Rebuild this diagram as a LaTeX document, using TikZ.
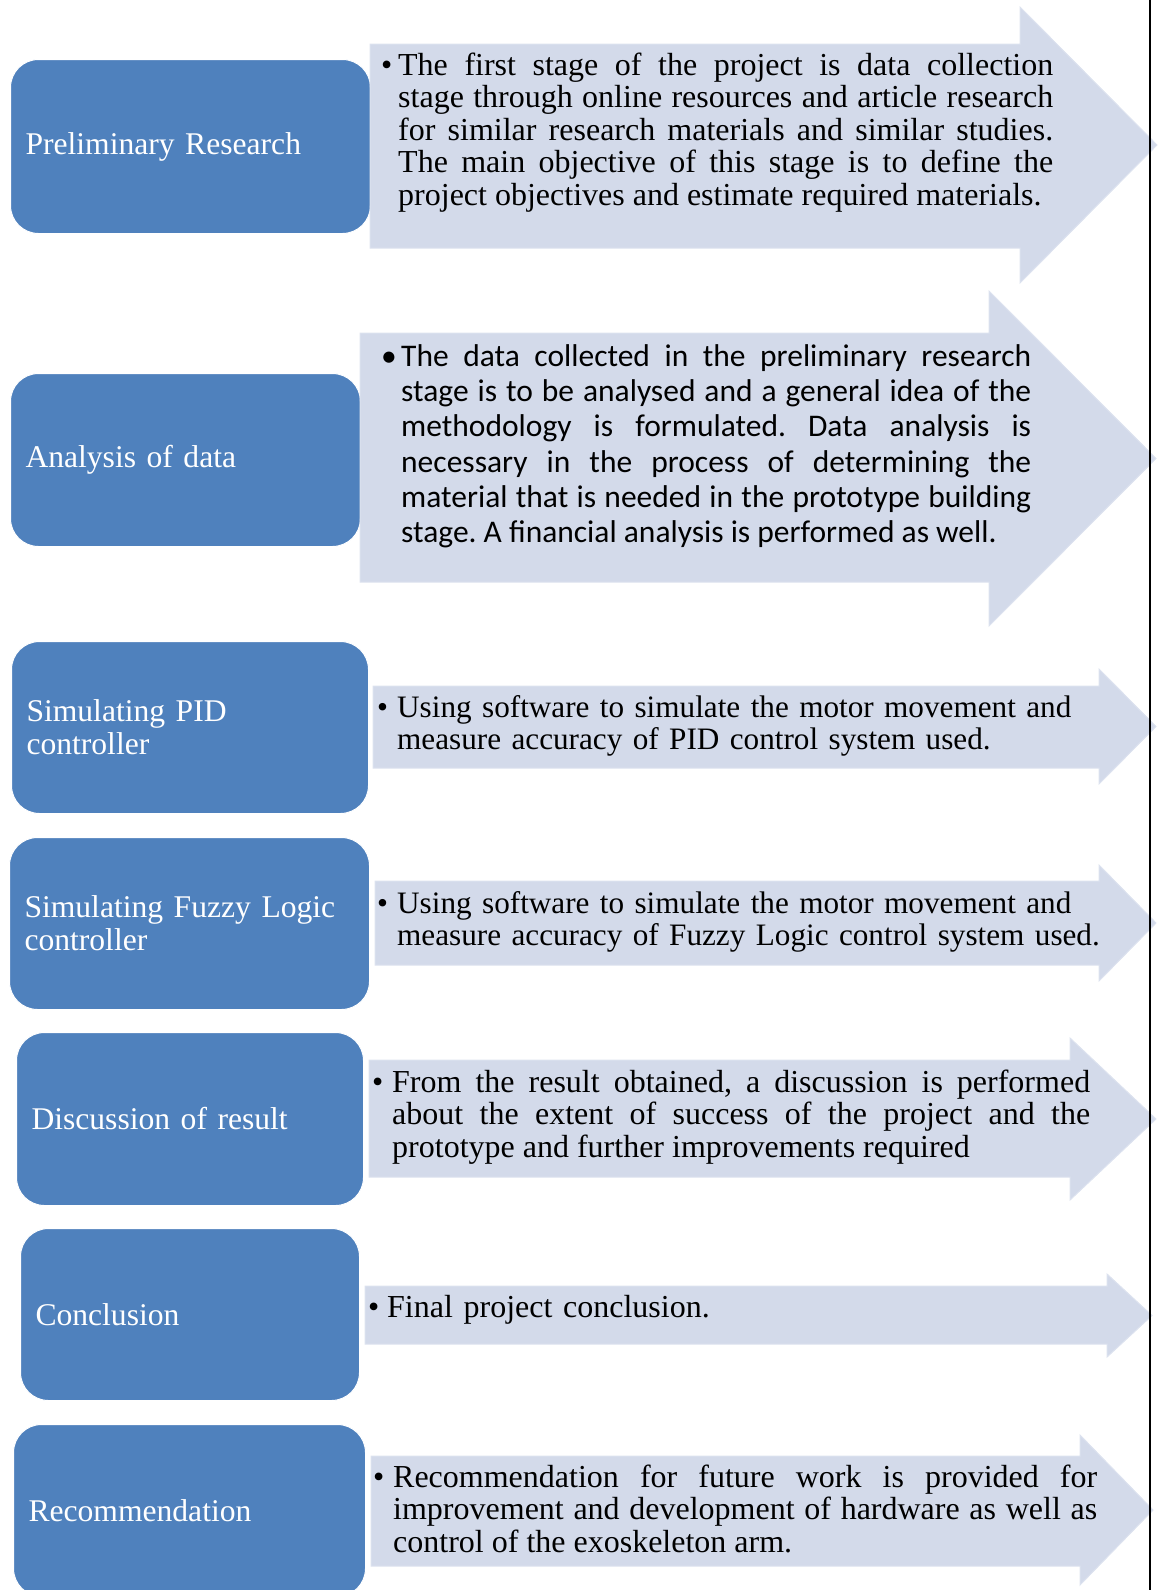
\documentclass[tikz,border=0pt]{standalone}
\usepackage{fontspec}
\setmainfont{Liberation Serif}
\newfontfamily\calibrifont{Carlito}
\definecolor{boxblue}{RGB}{79,129,189}
\definecolor{arrowfill}{RGB}{211,218,234}
\definecolor{arrowedge}{RGB}{220,226,239}
\newcommand{\stagearrow}[7]{%
  \filldraw[arrowshape] (#1,#2) -- (#4,#2) -- (#4,#5) -- (#7,{(#5+#6)/2}) -- (#4,#6) -- (#4,#3) -- (#1,#3) -- cycle;}
\newcommand{\bulletitem}[2]{\frenchspacing\noindent\hangindent=#1\hangafter=1\strut\makebox[#1][l]{\textbullet}#2\par}
\begin{document}
\begin{tikzpicture}[x=1pt,y=-1pt,
  stagebox/.style={fill=boxblue, draw=white, line width=1pt, rounded corners=28pt, text=white,
    font=\fontsize{31.6}{33}\selectfont, align=left, anchor=north west, inner xsep=15pt, inner ysep=0pt},
  arrowshape/.style={fill=arrowfill, draw=arrowedge, line width=1pt},
  desc/.style={anchor=north west, inner sep=0pt, text=black, font=\fontsize{32}{32.5}\selectfont, align=justify},
  descrag/.style={desc, align=left}
]
\useasboundingbox (0,0) rectangle (1158,1590);

% stage boxes
\node[stagebox, minimum width=360pt, minimum height=174pt, text width=330pt] (b1) at (10,59) {Preliminary Research};
\node[stagebox, minimum width=350pt, minimum height=173pt, text width=320pt] (b2) at (10,373) {Analysis of data};
\node[stagebox, minimum width=357pt, minimum height=172pt, text width=327pt] (b3) at (11,641) {Simulating PID\\controller};
\node[stagebox, minimum width=360pt, minimum height=172pt, text width=330pt] (b4) at (9,837) {Simulating Fuzzy Logic\\controller};
\node[stagebox, minimum width=347pt, minimum height=173pt, text width=317pt] (b5) at (16,1032) {Discussion of result};
\node[stagebox, minimum width=339pt, minimum height=172pt, text width=309pt] (b6) at (20,1228) {Conclusion};
\node[stagebox, minimum width=352pt, minimum height=172pt, text width=322pt] (b7) at (13,1424) {Recommendation};

% arrows
\stagearrow{370}{44}{248}{1020}{7}{283}{1157}
\stagearrow{360}{333}{582}{989}{291}{626}{1156}
\stagearrow{373}{686}{768}{1099}{669}{784}{1156}
\stagearrow{375}{881}{965}{1099}{865}{981}{1156}
\stagearrow{369}{1060}{1177}{1070}{1038}{1200}{1156}
\stagearrow{365}{1286}{1344}{1107}{1274}{1357}{1152}
\stagearrow{371}{1456}{1566}{1080}{1435}{1585}{1153}

% descriptions
\node[desc, text width=672pt] (d1) at (381,52.25) {\bulletitem{17pt}{The first stage of the project is data collection\linebreak stage through online resources and article research\linebreak for similar research materials and similar studies.\linebreak The main objective of this stage is to define the\linebreak project objectives and estimate required materials.}};
\node[desc, font=\calibrifont\fontsize{31.5}{35.3}\selectfont, text width=650pt] (d2) at (381,341.3) {\bulletitem{20pt}{The data collected in the preliminary research\linebreak stage is to be analysed and a general idea of the\linebreak methodology is formulated. Data analysis is\linebreak necessary in the process of determining the\linebreak material that is needed in the prototype building\linebreak stage. A financial analysis is performed as well.}};
\node[descrag, font=\fontsize{31.2}{32.5}\selectfont, text width=760pt] (d3) at (377,694.25) {\bulletitem{20pt}{Using software to simulate the motor movement and\newline measure accuracy of PID control system used.}};
\node[descrag, font=\fontsize{31.2}{32.5}\selectfont, text width=760pt] (d4) at (377,890.25) {\bulletitem{20pt}{Using software to simulate the motor movement and\newline measure accuracy of Fuzzy Logic control system used.}};
\node[desc, text width=718pt] (d5) at (372,1069.25) {\bulletitem{20pt}{From the result obtained, a discussion is performed\linebreak about the extent of success of the project and the\linebreak prototype and further improvements required}};
\node[descrag, text width=500pt] (d6) at (368,1294.25) {\bulletitem{19pt}{Final project conclusion.}};
\node[desc, text width=724pt] (d7) at (373,1464.25) {\bulletitem{20pt}{Recommendation for future work is provided for\linebreak improvement and development of hardware as well as\linebreak control of the exoskeleton arm.}};

% right border rule
\draw[line width=2.5pt] (1150,0) -- (1150,1590);
\end{tikzpicture}
\end{document}
